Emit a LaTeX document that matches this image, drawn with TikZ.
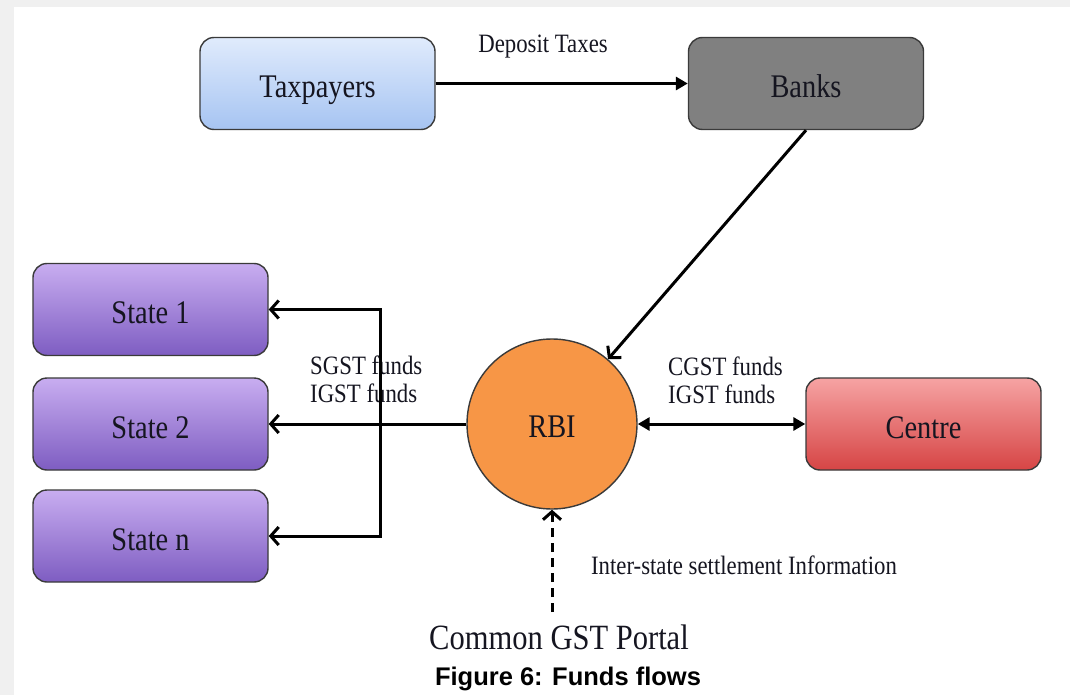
\documentclass[tikz,border=0pt]{standalone}
\usepackage{graphicx}
\usepackage{fontspec}
\setmainfont{Liberation Serif}
\newfontfamily\capfont{Liberation Sans}
\usetikzlibrary{arrows.meta}
\newcommand\narrowtxt[1]{\scalebox{0.86}[1]{#1}}
\definecolor{bggray}{HTML}{F0F0F0}
\definecolor{boxline}{HTML}{3A3A3A}
\definecolor{taxtop}{HTML}{E0EBFC}
\definecolor{taxbot}{HTML}{A6C4F2}
\definecolor{bankfill}{HTML}{808080}
\definecolor{sttop}{HTML}{C8ADF0}
\definecolor{stbot}{HTML}{7E5DC2}
\definecolor{cetop}{HTML}{F6A3A3}
\definecolor{cebot}{HTML}{D64545}
\definecolor{rbifill}{HTML}{F79646}
\definecolor{txt}{HTML}{151520}
\tikzset{
  box/.style={draw=boxline, line width=1.4pt, rounded corners=14pt,
    minimum width=235pt, minimum height=92pt, inner sep=0pt,
    text height=28pt, text depth=0pt,
    font=\fontsize{33}{36}\selectfont, text=txt},
  taxbox/.style={box, top color=taxtop, bottom color=taxbot},
  bankbox/.style={box, fill=bankfill},
  statebox/.style={box, top color=sttop, bottom color=stbot},
  centrebox/.style={box, top color=cetop, bottom color=cebot},
  lbl/.style={font=\fontsize{26.5}{28}\selectfont, text=txt, inner sep=0pt},
  flow/.style={line width=3pt, -{Triangle[length=12pt,width=13pt]}},
  flowb/.style={line width=3pt, {Triangle[length=12pt,width=13pt]}-{Triangle[length=12pt,width=13pt]}},
  chev/.style={line width=3pt, -{Straight Barb[length=8pt,width=18pt,line width=3pt]}},
  chevb/.style={line width=3pt, {Straight Barb[length=8pt,width=18pt,line width=3pt]}-{Straight Barb[length=8pt,width=18pt,line width=3pt]}},
}
\begin{document}
\begin{tikzpicture}[x=1pt,y=-1pt]
\useasboundingbox (0,0) rectangle (1070,695);
\fill[bggray] (0,0) rectangle (1070,695);
\fill[white] (14,7) rectangle (1070,695);

\node[taxbox] (tax) at (317.5,83.5) {\narrowtxt{Taxpayers}};
\node[bankbox] (bank) at (806,83.5) {\narrowtxt{Banks}};
\node[statebox] (s1) at (150.5,309.5) {\narrowtxt{State 1}};
\node[statebox] (s2) at (150.5,424) {\narrowtxt{State 2}};
\node[statebox] (sn) at (150.5,536) {\narrowtxt{State n}};
\node[centrebox] (centre) at (923.5,424) {\narrowtxt{Centre}};
\node[circle, draw=boxline, line width=1.4pt, fill=rbifill, minimum size=170pt, inner sep=0pt,
      text height=26pt, text depth=0pt,
      font=\fontsize{33}{36}\selectfont, text=txt] (rbi) at (552,424) {\narrowtxt{RBI}};

\node[font=\fontsize{35.5}{38}\selectfont, text=txt, inner sep=0pt] (portal) at (559,637) {\narrowtxt{Common GST Portal}};
\coordinate (portaltop) at (552,612);
\coordinate (bus) at (380,424);

\node[lbl] (dep) at (543,47) {\narrowtxt{Deposit Taxes}};
\node[lbl, anchor=west] (sg) at (310,383) {\narrowtxt{\begin{tabular}{@{}l@{}}SGST funds\\IGST funds\end{tabular}}};
\node[lbl, anchor=west] (cg) at (668,384) {\narrowtxt{\begin{tabular}{@{}l@{}}CGST funds\\IGST funds\end{tabular}}};
\node[lbl] (inter) at (744,565) {\narrowtxt{Inter-state settlement Information}};
\node[font=\capfont\bfseries\fontsize{25.5}{30}\selectfont, text=black, inner sep=0pt] (cap) at (568,679) {Figure 6: Funds flows};

\draw[flow] (tax.east) -- (bank.west);
\draw[chev] (bank.south) -- (rbi);
\draw[chev] (rbi.west) -- (s2.east);
\draw[chevb] (s1.east) -| (bus) |- (sn.east);
\draw[flowb] (rbi.east) -- (centre.west);
\draw[chev, dashed, dash pattern=on 9pt off 6pt] (portaltop) -- (rbi.south);
\end{tikzpicture}
\end{document}
